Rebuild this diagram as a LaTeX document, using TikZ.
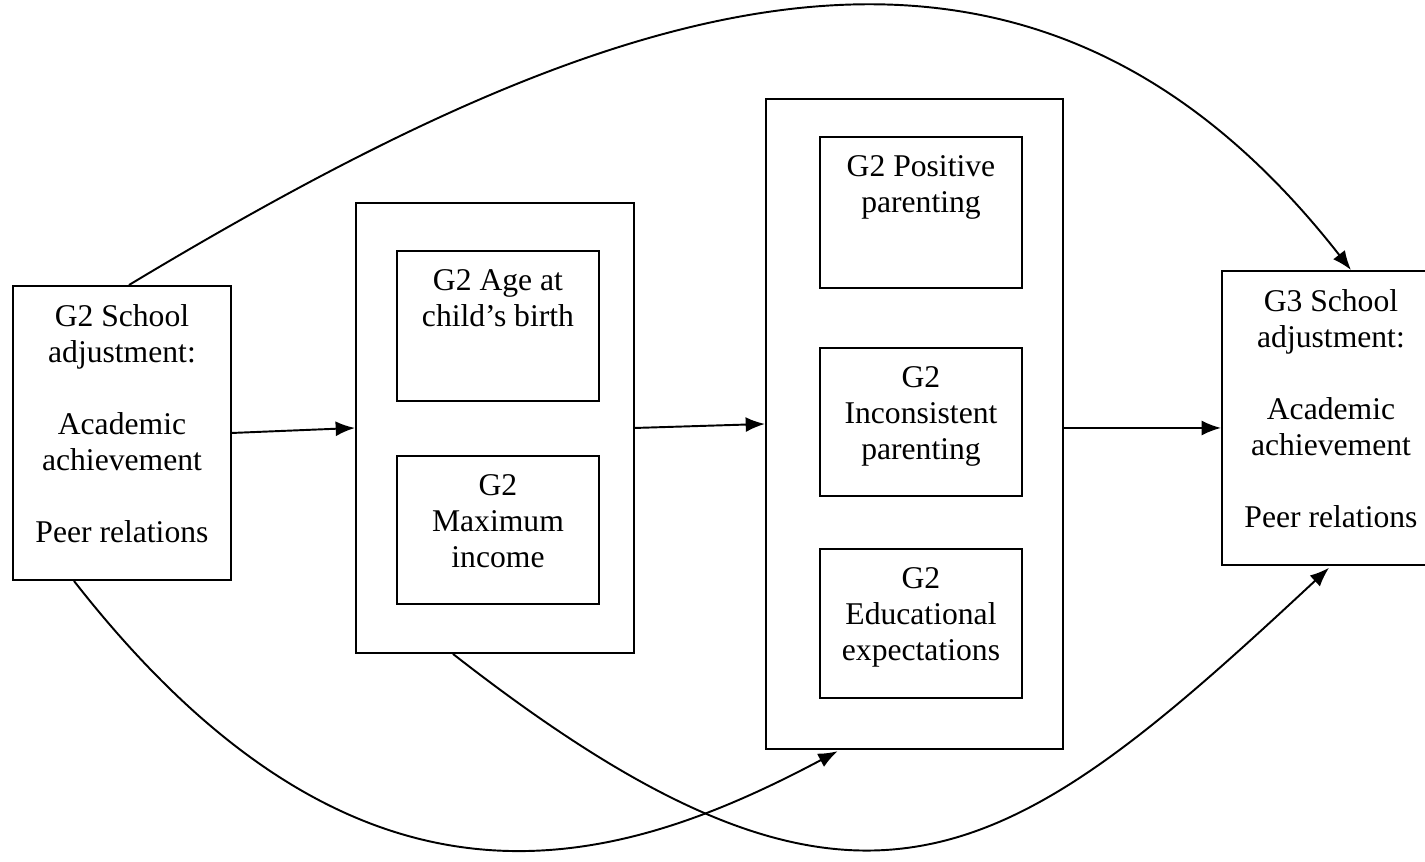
\documentclass[tikz,border=0pt]{standalone}
\usepackage{fontspec}
\setmainfont{Liberation Serif}
\usetikzlibrary{arrows.meta}
\tikzset{
	node_box/.style = {
		rectangle,
		draw=black,
		anchor=north west,
		inner sep=0pt
	},
	node_group/.style = {
		node_box
	},
	node_var/.style = {
		node_box,
		minimum width=4.04cm
	},
	node_school/.style = {
		node_box,
		minimum width=4.36cm,
		minimum height=5.88cm
	},
	node_text/.style = {
		align=center,
		anchor=north,
		inner sep=0pt,
		yshift=-0.38cm,
		font=\fontsize{18}{20.4}\selectfont
	},
}

\begin{document}
\begin{tikzpicture}[->,>={Latex[length=11pt,width=8.5pt]}, line width=1.1pt]
\useasboundingbox (0,0) rectangle (28.5,-17.24);

% outcome boxes
\node [node_school, label={[node_text]north:{G2 School\\adjustment:\\[20.4pt]Academic\\achievement\\[20.4pt]Peer relations}}] (g2school) at (0.24,-5.70) {};
\node [node_school, label={[node_text]north:{G3 School\\adjustment:\\[20.4pt]Academic\\achievement\\[20.4pt]Peer relations}}] (g3school) at (24.42,-5.40) {};

% first group
\node [node_group, minimum width=5.56cm, minimum height=9.00cm] (ageincome) at (7.10,-4.04) {};
\node [node_var, minimum height=3.00cm, label={[node_text]north:{G2 Age at\\child's birth}}] (age) at (7.92,-5.00) {};
\node [node_var, minimum height=2.96cm, label={[node_text]north:{G2\\Maximum\\income}}] (income) at (7.92,-9.10) {};

% second group
\node [node_group, minimum width=5.94cm, minimum height=13.00cm] (parenting) at (15.30,-1.96) {};
\node [node_var, minimum height=3.02cm, label={[node_text]north:{G2 Positive\\parenting}}] (positive) at (16.38,-2.72) {};
\node [node_var, minimum height=2.96cm, label={[node_text]north:{G2\\Inconsistent\\parenting}}] (inconsistent) at (16.38,-6.94) {};
\node [node_var, minimum height=2.98cm, label={[node_text]north:{G2\\Educational\\expectations}}] (educational) at (16.38,-10.96) {};

% paths
\draw (g2school.east) -- (ageincome.west);
\draw (ageincome.east) -- (parenting.west);
\draw ([yshift=-0.08cm]parenting.east) -- ([yshift=-0.08cm]parenting.east -| g3school.west);
\draw ([xshift=0.14cm]g2school.north) to[out=31, in=128, out looseness=1.18, in looseness=1.12] ([xshift=0.4cm]g3school.north);
\draw [shorten >=1.5pt] ([xshift=-0.96cm]g2school.south) to[out=-52, in=208, out looseness=1.5, in looseness=0.85] ([xshift=-1.49cm]parenting.south);
\draw [shorten >=1.5pt] ([xshift=-0.84cm]ageincome.south) to[out=-38, in=223, out looseness=1.5, in looseness=1.3] (g3school.south);
\end{tikzpicture}
\end{document}
